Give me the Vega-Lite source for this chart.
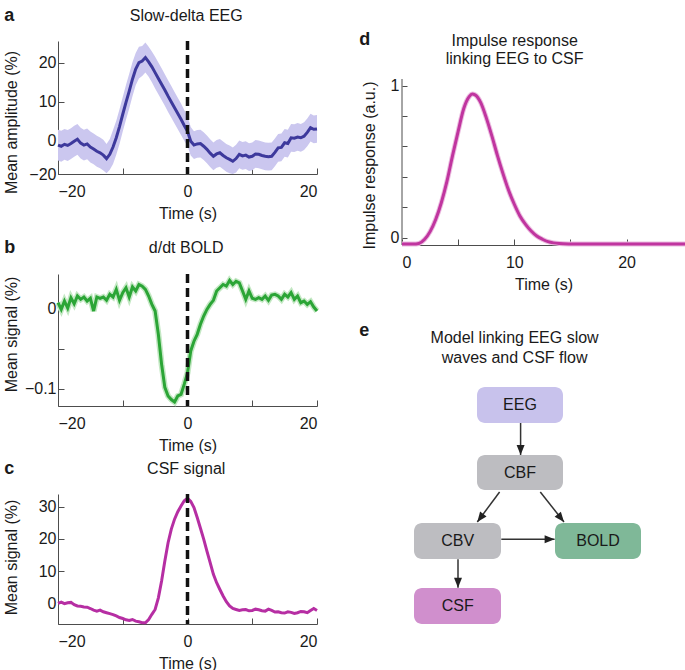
{
  "$schema": "https://vega.github.io/schema/vega-lite/v6.json",
  "background": "white",
  "padding": {"left": 2, "top": 6, "right": 0, "bottom": 0},
  "config": {
    "font": "Liberation Sans",
    "view": {"stroke": null},
    "axis": {"grid": false, "domainColor": "#4d4d4d", "tickColor": "#4d4d4d", "tickSize": -6, "labelFontSize": 16, "labelColor": "#1a1a1a", "titleFontSize": 16, "titleFontWeight": "normal", "titleColor": "#1a1a1a", "labelFont": "Liberation Sans", "titleFont": "Liberation Sans"},
    "axisX": {"labelPadding": 15},
    "axisY": {"labelPadding": 8},
    "text": {"color": "#1a1a1a", "font": "Liberation Sans"}
  },
  "datasets": {
    "a": [
      {"t":-20,"v":-1.3,"lo":-5.3,"hi":2.7},{"t":-19.5,"v":-1.6,"lo":-5.6,"hi":2.4},{"t":-19,"v":-1.1,"lo":-5.1,"hi":2.9},{"t":-18.5,"v":-1.4,"lo":-5.4,"hi":2.6},
      {"t":-18,"v":-0.9,"lo":-4.9,"hi":3.1},{"t":-17.5,"v":-0.3,"lo":-4.3,"hi":3.7},{"t":-17,"v":0.2,"lo":-3.8,"hi":4.2},{"t":-16.5,"v":-0.8,"lo":-4.8,"hi":3.2},
      {"t":-16,"v":-1.3,"lo":-5.3,"hi":2.7},{"t":-15.5,"v":-1.0,"lo":-5.0,"hi":3.0},{"t":-15,"v":-1.8,"lo":-5.8,"hi":2.2},{"t":-14.5,"v":-2.3,"lo":-6.3,"hi":1.7},
      {"t":-14,"v":-2.9,"lo":-6.9,"hi":1.1},{"t":-13.5,"v":-3.3,"lo":-7.3,"hi":0.7},{"t":-13,"v":-3.9,"lo":-7.9,"hi":0.1},{"t":-12.5,"v":-4.8,"lo":-8.6,"hi":-1.0},
      {"t":-12,"v":-3.7,"lo":-7.7,"hi":0.3},{"t":-11.5,"v":-1.8,"lo":-6.2,"hi":2.6},{"t":-11,"v":0.6,"lo":-3.8,"hi":5.0},{"t":-10.5,"v":3.5,"lo":-1.0,"hi":8.0},
      {"t":-10,"v":6.7,"lo":2.2,"hi":11.2},{"t":-9.5,"v":9.8,"lo":5.3,"hi":14.3},{"t":-9,"v":12.7,"lo":8.2,"hi":17.2},{"t":-8.5,"v":15.8,"lo":11.4,"hi":20.2},
      {"t":-8,"v":18.4,"lo":14.2,"hi":22.6},{"t":-7.5,"v":20.1,"lo":16.0,"hi":24.2},{"t":-7,"v":20.5,"lo":16.6,"hi":24.4},{"t":-6.5,"v":21.4,"lo":17.5,"hi":25.3},
      {"t":-6,"v":20.3,"lo":16.4,"hi":24.2},{"t":-5.5,"v":19.0,"lo":15.0,"hi":23.0},{"t":-5,"v":17.5,"lo":13.4,"hi":21.6},{"t":-4.5,"v":16.0,"lo":11.9,"hi":20.1},
      {"t":-4,"v":14.5,"lo":10.4,"hi":18.6},{"t":-3.5,"v":13.0,"lo":8.9,"hi":17.1},{"t":-3,"v":11.4,"lo":7.3,"hi":15.5},{"t":-2.5,"v":9.9,"lo":5.8,"hi":14.0},
      {"t":-2,"v":8.4,"lo":4.3,"hi":12.5},{"t":-1.5,"v":6.9,"lo":2.8,"hi":11.0},{"t":-1,"v":5.4,"lo":1.3,"hi":9.5},{"t":-0.5,"v":3.8,"lo":-0.2,"hi":7.8},
      {"t":0,"v":2.3,"lo":-1.6,"hi":6.2},{"t":0.5,"v":-0.3,"lo":-4.0,"hi":3.4},{"t":1,"v":-1.3,"lo":-4.9,"hi":2.3},{"t":1.5,"v":-1.0,"lo":-4.6,"hi":2.6},
      {"t":2,"v":-0.9,"lo":-4.5,"hi":2.7},{"t":2.5,"v":-1.6,"lo":-5.2,"hi":2.0},{"t":3,"v":-2.4,"lo":-6.0,"hi":1.2},{"t":3.5,"v":-3.4,"lo":-7.0,"hi":0.2},
      {"t":4,"v":-4.2,"lo":-7.8,"hi":-0.6},{"t":4.5,"v":-3.6,"lo":-7.2,"hi":0.0},{"t":5,"v":-3.3,"lo":-6.9,"hi":0.3},{"t":5.5,"v":-4.0,"lo":-7.6,"hi":-0.4},
      {"t":6,"v":-4.6,"lo":-8.2,"hi":-1.0},{"t":6.5,"v":-5.0,"lo":-8.6,"hi":-1.4},{"t":7,"v":-5.5,"lo":-8.8,"hi":-1.9},{"t":7.5,"v":-4.8,"lo":-8.4,"hi":-1.2},
      {"t":8,"v":-3.7,"lo":-7.3,"hi":-0.1},{"t":8.5,"v":-4.1,"lo":-7.7,"hi":-0.5},{"t":9,"v":-3.9,"lo":-7.5,"hi":-0.3},{"t":9.5,"v":-4.4,"lo":-8.0,"hi":-0.8},
      {"t":10,"v":-4.2,"lo":-7.8,"hi":-0.6},{"t":10.5,"v":-3.6,"lo":-7.2,"hi":0.0},{"t":11,"v":-3.7,"lo":-7.3,"hi":-0.1},{"t":11.5,"v":-4.0,"lo":-7.6,"hi":-0.4},
      {"t":12,"v":-4.2,"lo":-7.8,"hi":-0.6},{"t":12.5,"v":-4.3,"lo":-7.9,"hi":-0.7},{"t":13,"v":-4.2,"lo":-7.8,"hi":-0.6},{"t":13.5,"v":-3.2,"lo":-6.8,"hi":0.4},
      {"t":14,"v":-2.0,"lo":-5.6,"hi":1.6},{"t":14.5,"v":-1.9,"lo":-5.5,"hi":1.7},{"t":15,"v":-0.7,"lo":-4.3,"hi":2.9},{"t":15.5,"v":-0.9,"lo":-4.5,"hi":2.7},
      {"t":16,"v":0.6,"lo":-3.0,"hi":4.2},{"t":16.5,"v":0.5,"lo":-3.1,"hi":4.1},{"t":17,"v":0.8,"lo":-2.8,"hi":4.4},{"t":17.5,"v":0.6,"lo":-3.0,"hi":4.2},
      {"t":18,"v":1.0,"lo":-2.6,"hi":4.6},{"t":18.5,"v":2.0,"lo":-1.6,"hi":5.6},{"t":19,"v":3.2,"lo":-0.4,"hi":6.8},{"t":19.5,"v":2.8,"lo":-0.8,"hi":6.4},
      {"t":20,"v":2.9,"lo":-0.7,"hi":6.5}
    ],
    "b": [
      {"t":-20,"v":0.0066},{"t":-19.5,"v":-0.0017},{"t":-19,"v":0.0086},{"t":-18.5,"v":0.0},{"t":-18,"v":0.0127},{"t":-17.5,"v":0.0053},
      {"t":-17,"v":0.0148},{"t":-16.5,"v":0.0107},{"t":-16,"v":0.0136},{"t":-15.5,"v":0.0086},{"t":-15,"v":0.012},{"t":-14.5,"v":-0.0037},
      {"t":-14,"v":0.0136},{"t":-13.5,"v":0.012},{"t":-13,"v":0.0136},{"t":-12.5,"v":0.0095},{"t":-12,"v":0.0169},{"t":-11.5,"v":0.0136},
      {"t":-11,"v":0.023},{"t":-10.5,"v":0.0095},{"t":-10,"v":0.019},{"t":-9.5,"v":0.025},{"t":-9,"v":0.0136},{"t":-8.5,"v":0.026},
      {"t":-8,"v":0.021},{"t":-7.5,"v":0.029},{"t":-7,"v":0.027},{"t":-6.5,"v":0.023},{"t":-6,"v":0.0148},{"t":-5.5,"v":0.0045},
      {"t":-5,"v":-0.0037},{"t":-4.5,"v":-0.0325},{"t":-4,"v":-0.0695},{"t":-3.5,"v":-0.098},{"t":-3,"v":-0.1086},{"t":-2.5,"v":-0.113},
      {"t":-2,"v":-0.116},{"t":-1.5,"v":-0.1086},{"t":-1,"v":-0.1066},{"t":-0.5,"v":-0.094},{"t":0,"v":-0.08},{"t":0.5,"v":-0.053},
      {"t":1,"v":-0.041},{"t":1.5,"v":-0.0325},{"t":2,"v":-0.02},{"t":2.5,"v":-0.0099},{"t":3,"v":-0.0017},{"t":3.5,"v":0.0045},
      {"t":4,"v":0.0095},{"t":4.5,"v":0.021},{"t":5,"v":0.025},{"t":5.5,"v":0.029},{"t":6,"v":0.027},{"t":6.5,"v":0.034},
      {"t":7,"v":0.029},{"t":7.5,"v":0.033},{"t":8,"v":0.031},{"t":8.5,"v":0.021},{"t":9,"v":0.0107},{"t":9.5,"v":0.021},
      {"t":10,"v":0.012},{"t":10.5,"v":0.0107},{"t":11,"v":0.0127},{"t":11.5,"v":0.0107},{"t":12,"v":0.0148},{"t":12.5,"v":0.0095},
      {"t":13,"v":0.016},{"t":13.5,"v":0.0169},{"t":14,"v":0.0148},{"t":14.5,"v":0.0107},{"t":15,"v":0.0169},{"t":15.5,"v":0.0136},
      {"t":16,"v":0.019},{"t":16.5,"v":0.0107},{"t":17,"v":0.0148},{"t":17.5,"v":0.0066},{"t":18,"v":0.0086},{"t":18.5,"v":0.0045},
      {"t":19,"v":0.0078},{"t":19.5,"v":0.0012},{"t":20,"v":-0.0037}
    ],
    "c": [
      {"t":-20,"v":0.0},{"t":-19.5,"v":0.4},{"t":-19,"v":-0.1},{"t":-18.5,"v":0.2},{"t":-18,"v":0.3},{"t":-17.5,"v":-0.4},{"t":-17,"v":-0.8},
      {"t":-16.5,"v":-0.9},{"t":-16,"v":-1.1},{"t":-15.5,"v":-1.2},{"t":-15,"v":-1.6},{"t":-14.5,"v":-2.1},{"t":-14,"v":-2.4},{"t":-13.5,"v":-2.1},
      {"t":-13,"v":-2.6},{"t":-12.5,"v":-2.9},{"t":-12,"v":-3.2},{"t":-11.5,"v":-3.5},{"t":-11,"v":-3.9},{"t":-10.5,"v":-4.4},{"t":-10,"v":-4.7},
      {"t":-9.5,"v":-5.1},{"t":-9,"v":-5.3},{"t":-8.5,"v":-5.0},{"t":-8,"v":-5.5},{"t":-7.5,"v":-5.7},{"t":-7,"v":-6.0},{"t":-6.5,"v":-6.0},
      {"t":-6,"v":-5.0},{"t":-5.5,"v":-3.4},{"t":-5,"v":-1.9},{"t":-4.5,"v":1.7},{"t":-4,"v":6.9},{"t":-3.5,"v":13.1},{"t":-3,"v":18.8},
      {"t":-2.5,"v":23.0},{"t":-2,"v":26.1},{"t":-1.5,"v":28.4},{"t":-1,"v":30.2},{"t":-0.5,"v":31.8},{"t":0,"v":32.6},{"t":0.5,"v":31.6},
      {"t":1,"v":29.7},{"t":1.5,"v":26.6},{"t":2,"v":23.3},{"t":2.5,"v":19.9},{"t":3,"v":16.2},{"t":3.5,"v":12.6},{"t":4,"v":9.0},
      {"t":4.5,"v":6.4},{"t":5,"v":4.3},{"t":5.5,"v":2.3},{"t":6,"v":0.5},{"t":6.5,"v":-0.8},{"t":7,"v":-1.6},{"t":7.5,"v":-1.9},
      {"t":8,"v":-2.2},{"t":8.5,"v":-2.0},{"t":9,"v":-1.9},{"t":9.5,"v":-2.3},{"t":10,"v":-2.2},{"t":10.5,"v":-1.8},{"t":11,"v":-2.0},
      {"t":11.5,"v":-2.3},{"t":12,"v":-2.4},{"t":12.5,"v":-1.8},{"t":13,"v":-2.2},{"t":13.5,"v":-2.7},{"t":14,"v":-2.6},{"t":14.5,"v":-2.9},
      {"t":15,"v":-3.0},{"t":15.5,"v":-2.6},{"t":16,"v":-2.8},{"t":16.5,"v":-3.1},{"t":17,"v":-2.9},{"t":17.5,"v":-2.5},{"t":18,"v":-2.6},
      {"t":18.5,"v":-2.9},{"t":19,"v":-2.2},{"t":19.5,"v":-1.6},{"t":20,"v":-2.2}
    ],
    "d": [
      {"t":0,"v":-0.042},{"t":0.5,"v":-0.042},{"t":1,"v":-0.042},{"t":1.5,"v":-0.038},{"t":2,"v":-0.012},{"t":2.5,"v":0.04},
      {"t":3,"v":0.12},{"t":3.5,"v":0.23},{"t":4,"v":0.37},{"t":4.5,"v":0.54},{"t":5,"v":0.7},{"t":5.5,"v":0.85},{"t":6,"v":0.93},
      {"t":6.25,"v":0.945},{"t":6.5,"v":0.94},{"t":7,"v":0.89},{"t":7.5,"v":0.79},{"t":8,"v":0.67},{"t":8.5,"v":0.54},{"t":9,"v":0.42},
      {"t":9.5,"v":0.31},{"t":10,"v":0.22},{"t":10.5,"v":0.143},{"t":11,"v":0.088},{"t":11.5,"v":0.044},{"t":12,"v":0.011},
      {"t":12.5,"v":-0.01},{"t":13,"v":-0.026},{"t":13.5,"v":-0.034},{"t":14,"v":-0.038},{"t":15,"v":-0.041},{"t":16,"v":-0.042},
      {"t":20,"v":-0.042},{"t":25.2,"v":-0.042}
    ],
    "nodes": [
      {"node":"EEG","x1":7.5,"x2":16.1,"y1":0.6,"y2":4.2,"cx":11.8,"cy":2.4},
      {"node":"CBF","x1":7.5,"x2":16.1,"y1":7.4,"y2":10.9,"cx":11.8,"cy":9.17},
      {"node":"CBV","x1":1.2,"x2":9.9,"y1":14.2,"y2":17.8,"cx":5.57,"cy":16.0},
      {"node":"BOLD","x1":15.3,"x2":23.9,"y1":14.2,"y2":17.8,"cx":19.6,"cy":16.0},
      {"node":"CSF","x1":1.2,"x2":9.9,"y1":20.7,"y2":24.3,"cx":5.57,"cy":22.5}
    ],
    "edges": [
      {"from":"EEG","to":"CBF","x1":11.86,"y1":4.2,"x2":11.86,"y2":7.4,"dir":"down"},
      {"from":"CBF","to":"CBV","x1":9.76,"y1":11.1,"x2":7.53,"y2":14.1,"dir":"downleft"},
      {"from":"CBF","to":"BOLD","x1":13.83,"y1":11.1,"x2":16.2,"y2":14.1,"dir":"downright"},
      {"from":"CBV","to":"BOLD","x1":9.93,"y1":15.83,"x2":15.26,"y2":15.83,"dir":"right"},
      {"from":"CBV","to":"CSF","x1":5.6,"y1":17.83,"x2":5.6,"y2":20.67,"dir":"down"}
    ]
  },
  "hconcat": [
    {
      "vconcat": [
        {
          "width": 259, "height": 133,
          "layer": [
            {"data": {"name": "a"}, "mark": {"type": "area", "color": "#cbc7ef"},
             "encoding": {
               "x": {"field": "t", "type": "quantitative", "scale": {"domain": [-20, 20], "nice": false, "zero": false},
                     "axis": {"values": [-20,-15,-10,-5,0,5,10,15,20], "labelExpr": "datum.value % 20 === 0 ? datum.label : ''", "title": "Time (s)", "titleBaseline": "alphabetic", "titleY": 44}},
               "y": {"field": "lo", "type": "quantitative", "scale": {"domain": [-8.8, 25.7], "nice": false, "zero": false},
                     "axis": {"values": [-8.8, 0, 10, 20], "labelExpr": "datum.value < -5 ? '−20' : format(datum.value, 'd')", "title": "Mean amplitude (%)", "titleBaseline": "alphabetic", "titleX": -42, "titleY": 81}},
               "y2": {"field": "hi"}}},
            {"data": {"name": "a"}, "mark": {"type": "line", "color": "#3d399c", "strokeWidth": 3},
             "encoding": {"x": {"field": "t", "type": "quantitative"}, "y": {"field": "v", "type": "quantitative"}}},
            {"data": {"values": [{}]}, "mark": {"type": "rule", "color": "#111111", "strokeWidth": 3.5, "strokeDash": [9, 5]},
             "encoding": {"x": {"datum": 0}}},
            {"data": {"values": [{}]}, "mark": {"type": "text", "text": "a", "align": "left", "baseline": "alphabetic", "fontSize": 18, "fontWeight": "bold"},
             "encoding": {"x": {"datum": -28.3}, "y": {"datum": 30.9}}},
            {"data": {"values": [{}]}, "mark": {"type": "text", "text": "Slow-delta EEG", "align": "center", "baseline": "alphabetic", "fontSize": 16},
             "encoding": {"x": {"datum": -0.2}, "y": {"datum": 30.9}}}
          ]
        },
        {
          "vconcat": [
            {
              "width": 259, "height": 132,
              "layer": [
                {"data": {"name": "b"}, "mark": {"type": "line", "color": "#c4e8c4", "strokeWidth": 6},
                 "encoding": {
                   "x": {"field": "t", "type": "quantitative", "scale": {"domain": [-20, 20], "nice": false, "zero": false},
                         "axis": {"values": [-20,-15,-10,-5,0,5,10,15,20], "labelExpr": "datum.value % 20 === 0 ? datum.label : ''", "title": "Time (s)", "titleBaseline": "alphabetic", "titleY": 44}},
                   "y": {"field": "v", "type": "quantitative", "scale": {"domain": [-0.121, 0.042], "nice": false, "zero": false},
                         "axis": {"values": [-0.1, -0.05, 0], "labelExpr": "datum.value === 0 ? '0' : (datum.value < -0.09 ? '−0.1' : '')", "title": "Mean signal (%)", "titleBaseline": "alphabetic", "titleX": -42, "titleY": 60}}}},
                {"data": {"name": "b"}, "mark": {"type": "line", "color": "#2ba536", "strokeWidth": 3},
                 "encoding": {"x": {"field": "t", "type": "quantitative"}, "y": {"field": "v", "type": "quantitative"}}},
                {"data": {"values": [{}]}, "mark": {"type": "rule", "color": "#111111", "strokeWidth": 3.5, "strokeDash": [9, 5]},
                 "encoding": {"x": {"datum": 0}}},
                {"data": {"values": [{}]}, "mark": {"type": "text", "text": "b", "align": "left", "baseline": "alphabetic", "fontSize": 18, "fontWeight": "bold"},
                 "encoding": {"x": {"datum": -28.3}, "y": {"datum": 0.0683}}},
                {"data": {"values": [{}]}, "mark": {"type": "text", "text": "d/dt BOLD", "align": "center", "baseline": "alphabetic", "fontSize": 16},
                 "encoding": {"x": {"datum": -0.2}, "y": {"datum": 0.0683}}}
              ]
            },
            {
              "width": 259, "height": 130,
              "layer": [
                {"data": {"name": "c"}, "mark": {"type": "line", "color": "#b62ea3", "strokeWidth": 3},
                 "encoding": {
                   "x": {"field": "t", "type": "quantitative", "scale": {"domain": [-20, 20], "nice": false, "zero": false},
                         "axis": {"values": [-20,-15,-10,-5,0,5,10,15,20], "labelExpr": "datum.value % 20 === 0 ? datum.label : ''", "title": "Time (s)", "titleBaseline": "alphabetic", "titleY": 44}},
                   "y": {"field": "v", "type": "quantitative", "scale": {"domain": [-6.4, 33.9], "nice": false, "zero": false},
                         "axis": {"values": [0, 10, 20, 30], "format": "d", "title": "Mean signal (%)", "titleBaseline": "alphabetic", "titleX": -42, "titleY": 63}}}},
                {"data": {"values": [{}]}, "mark": {"type": "rule", "color": "#111111", "strokeWidth": 3.5, "strokeDash": [9, 5]},
                 "encoding": {"x": {"datum": 0}}},
                {"data": {"values": [{}]}, "mark": {"type": "text", "text": "c", "align": "left", "baseline": "alphabetic", "fontSize": 18, "fontWeight": "bold"},
                 "encoding": {"x": {"datum": -28.3}, "y": {"datum": 40.0}}},
                {"data": {"values": [{}]}, "mark": {"type": "text", "text": "CSF signal", "align": "center", "baseline": "alphabetic", "fontSize": 16},
                 "encoding": {"x": {"datum": -0.2}, "y": {"datum": 40.0}}}
              ]
            }
          ],
          "spacing": 88,
          "bounds": "flush"
        }
      ],
      "spacing": 100,
      "bounds": "flush"
    },
    {
      "vconcat": [
        {
          "width": 283, "height": 204,
          "layer": [
            {"data": {"values": [{}]}, "mark": {"type": "rule", "color": "#4d4d4d", "strokeWidth": 1},
             "encoding": {
               "x": {"datum": 0, "type": "quantitative", "scale": {"domain": [0, 25.2], "nice": false, "zero": false},
                     "axis": {"values": [0, 5, 10, 15, 20], "labelExpr": "datum.value % 10 === 0 ? datum.label : ''", "title": "Time (s)", "titleBaseline": "alphabetic", "titleY": 44}},
               "y": {"datum": -0.048, "type": "quantitative", "scale": {"domain": [-0.048, 1.294], "nice": false, "zero": false},
                     "axis": {"domain": false, "tickSize": -5, "values": [0, 0.1, 0.2, 0.3, 0.4, 0.5, 0.6, 0.7, 0.8, 0.9, 1], "labelExpr": "datum.value === 0 ? '0' : (datum.value > 0.99 ? '1' : '')", "title": "Impulse response (a.u.)", "titleBaseline": "alphabetic", "titleX": -27.4, "titleY": 124}},
               "y2": {"datum": 1.044}}},
            {"data": {"name": "d"}, "mark": {"type": "line", "color": "#ebbde0", "strokeWidth": 5, "interpolate": "monotone"},
             "encoding": {"x": {"field": "t", "type": "quantitative"}, "y": {"field": "v", "type": "quantitative"}}},
            {"data": {"name": "d"}, "mark": {"type": "line", "color": "#c0359f", "strokeWidth": 3, "interpolate": "monotone"},
             "encoding": {"x": {"field": "t", "type": "quantitative"}, "y": {"field": "v", "type": "quantitative"}}},
            {"data": {"values": [{}]}, "mark": {"type": "text", "text": "d", "align": "left", "baseline": "alphabetic", "fontSize": 18, "fontWeight": "bold"},
             "encoding": {"x": {"datum": -3.8}, "y": {"datum": 1.268}}},
            {"data": {"values": [{}]}, "mark": {"type": "text", "text": "Impulse response", "align": "center", "baseline": "alphabetic", "fontSize": 16},
             "encoding": {"x": {"datum": 10.03}, "y": {"datum": 1.261}}},
            {"data": {"values": [{}]}, "mark": {"type": "text", "text": "linking EEG to CSF", "align": "center", "baseline": "alphabetic", "fontSize": 16},
             "encoding": {"x": {"datum": 10.03}, "y": {"datum": 1.141}}}
          ]
        },
        {
          "width": 283, "height": 250,
          "layer": [
            {"data": {"name": "edges"}, "mark": {"type": "rule", "color": "#333333", "strokeWidth": 1.5},
             "encoding": {
               "x": {"field": "x1", "type": "quantitative", "scale": {"domain": [0, 28.3], "nice": false, "zero": false}, "axis": null},
               "y": {"field": "y1", "type": "quantitative", "scale": {"domain": [0, 25], "nice": false, "zero": false, "reverse": true}, "axis": null},
               "x2": {"field": "x2"}, "y2": {"field": "y2"}}},
            {"data": {"name": "nodes"}, "mark": {"type": "rect", "cornerRadius": 8},
             "encoding": {
               "x": {"field": "x1", "type": "quantitative"}, "x2": {"field": "x2"},
               "y": {"field": "y1", "type": "quantitative"}, "y2": {"field": "y2"},
               "color": {"field": "node", "type": "nominal", "legend": null,
                         "scale": {"domain": ["EEG", "CBF", "CBV", "BOLD", "CSF"], "range": ["#c8c2ec", "#bdbdc1", "#bdbdc1", "#7fb898", "#d08fcd"]}}}},
            {"data": {"name": "nodes"}, "mark": {"type": "text", "fontSize": 16, "baseline": "middle", "align": "center"},
             "encoding": {"x": {"field": "cx", "type": "quantitative"}, "y": {"field": "cy", "type": "quantitative"}, "text": {"field": "node"}}},
            {"data": {"name": "edges"}, "transform": [{"filter": "datum.dir === 'down'"}],
             "mark": {"type": "point", "shape": "M0,0L-0.4,-1L0.4,-1Z", "size": 400, "filled": true, "opacity": 1, "color": "#222222", "angle": 0},
             "encoding": {"x": {"field": "x2", "type": "quantitative"}, "y": {"field": "y2", "type": "quantitative"}}},
            {"data": {"name": "edges"}, "transform": [{"filter": "datum.dir === 'right'"}],
             "mark": {"type": "point", "shape": "M0,0L-0.4,-1L0.4,-1Z", "size": 400, "filled": true, "opacity": 1, "color": "#222222", "angle": 270},
             "encoding": {"x": {"field": "x2", "type": "quantitative"}, "y": {"field": "y2", "type": "quantitative"}}},
            {"data": {"name": "edges"}, "transform": [{"filter": "datum.dir === 'downleft'"}],
             "mark": {"type": "point", "shape": "M0,0L-0.4,-1L0.4,-1Z", "size": 400, "filled": true, "opacity": 1, "color": "#222222", "angle": 36.9},
             "encoding": {"x": {"field": "x2", "type": "quantitative"}, "y": {"field": "y2", "type": "quantitative"}}},
            {"data": {"name": "edges"}, "transform": [{"filter": "datum.dir === 'downright'"}],
             "mark": {"type": "point", "shape": "M0,0L-0.4,-1L0.4,-1Z", "size": 400, "filled": true, "opacity": 1, "color": "#222222", "angle": 321.4},
             "encoding": {"x": {"field": "x2", "type": "quantitative"}, "y": {"field": "y2", "type": "quantitative"}}},
            {"data": {"values": [{}]}, "mark": {"type": "text", "text": "e", "align": "left", "baseline": "alphabetic", "fontSize": 18, "fontWeight": "bold"},
             "encoding": {"x": {"datum": -4.27}, "y": {"datum": -4.5}}},
            {"data": {"values": [{}]}, "mark": {"type": "text", "text": "Model linking EEG slow", "align": "center", "baseline": "alphabetic", "fontSize": 16},
             "encoding": {"x": {"datum": 11.26}, "y": {"datum": -3.83}}},
            {"data": {"values": [{}]}, "mark": {"type": "text", "text": "waves and CSF flow", "align": "center", "baseline": "alphabetic", "fontSize": 16},
             "encoding": {"x": {"datum": 11.26}, "y": {"datum": -1.83}}}
          ]
        }
      ],
      "spacing": 136,
      "bounds": "flush"
    }
  ],
  "spacing": 344,
  "bounds": "flush"
}
